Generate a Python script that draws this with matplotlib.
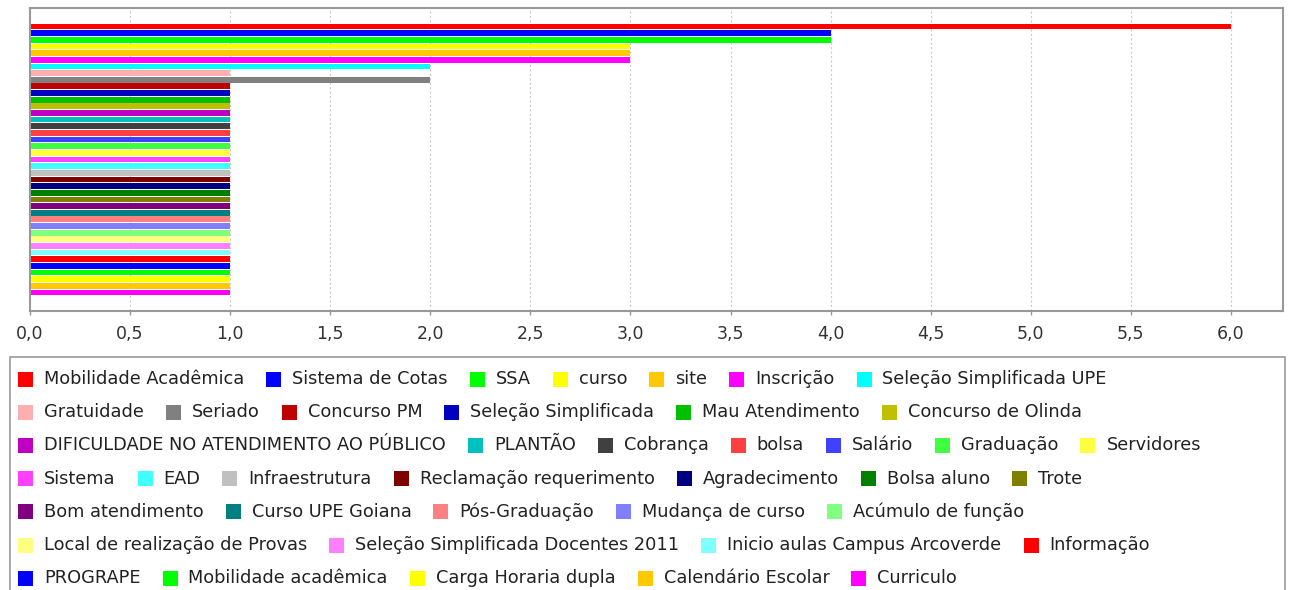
import matplotlib
matplotlib.use('Agg')
import matplotlib.pyplot as plt
from matplotlib.patches import Rectangle
from matplotlib.ticker import MultipleLocator, FuncFormatter

categories = ['Mobilidade Acadêmica', 'Sistema de Cotas', 'SSA', 'curso', 'site', 'Inscrição',
              'Seleção Simplificada UPE', 'Gratuidade', 'Seriado', 'Concurso PM',
              'Seleção Simplificada', 'Mau Atendimento', 'Concurso de Olinda',
              'DIFICULDADE NO ATENDIMENTO AO PÚBLICO', 'PLANTÃO', 'Cobrança', 'bolsa', 'Salário',
              'Graduação', 'Servidores', 'Sistema', 'EAD', 'Infraestrutura',
              'Reclamação requerimento', 'Agradecimento', 'Bolsa aluno', 'Trote',
              'Bom atendimento', 'Curso UPE Goiana', 'Pós-Graduação', 'Mudança de curso',
              'Acúmulo de função', 'Local de realização de Provas',
              'Seleção Simplificada Docentes 2011', 'Inicio aulas Campus Arcoverde', 'Informação',
              'PROGRAPE', 'Mobilidade acadêmica', 'Carga Horaria dupla', 'Calendário Escolar',
              'Curriculo']
values = [6, 4, 4, 3, 3, 3, 2, 1, 2] + [1] * 32

# java/jfreechart style default paint sequence
palette = ['#ff0000', '#0000ff', '#00ff00', '#ffff00', '#ffc800', '#ff00ff', '#00ffff',
           '#ffafaf', '#808080', '#c00000', '#0000c0', '#00c000', '#c0c000', '#c000c0',
           '#00c0c0', '#404040', '#ff4040', '#4040ff', '#40ff40', '#ffff40', '#ff40ff',
           '#40ffff', '#c0c0c0', '#800000', '#000080', '#008000', '#808000', '#800080',
           '#008080', '#ff8080', '#8080ff', '#80ff80', '#ffff80', '#ff80ff', '#80ffff',
           '#ff0000', '#0000ff', '#00ff00', '#ffff00', '#ffc800', '#ff00ff']
legend_rows = [7, 6, 7, 7, 5, 4, 5]

W, H = 1294, 590
fig = plt.figure(figsize=(W / 100, H / 100), dpi=100)
ax = fig.add_axes([30 / W, 1 - 311 / H, (1283 - 30) / W, (311 - 8) / H])

pos = list(range(len(categories)))
ax.barh(pos, values, height=0.86, color=palette, zorder=2)
ax.set_xlim(0, 6.26)
m = 2.28
ax.set_ylim(len(categories) - 0.5 + m, -0.5 - m)
ax.set_yticks([])
ax.xaxis.set_major_locator(MultipleLocator(0.5))
ax.xaxis.set_major_formatter(FuncFormatter(lambda v, p: f'{v:.1f}'.replace('.', ',')))
ax.grid(axis='x', color='#cccccc', linestyle=(0, (2, 2)), linewidth=0.8, zorder=0)
for s in ax.spines.values():
    s.set_color('#999999')
    s.set_linewidth(1.5)
ax.tick_params(axis='x', direction='out', length=3, width=1, color='#999999',
               pad=7, labelsize=12.5, labelcolor='#333333')

# legend box (bottom border is cut off in the original)
fig.add_artist(Rectangle((10 / W, -0.1), (1285 - 10) / W, (1 - 357 / H) + 0.1,
                         transform=fig.transFigure, fill=False,
                         edgecolor='#999999', lw=1.2))

renderer = fig.canvas.get_renderer()
idx = 0
for r, n in enumerate(legend_rows):
    yc = 379 + r * 33.2
    x = 18
    for k in range(n):
        fig.add_artist(Rectangle((x / W, 1 - (yc + 7.5) / H), 15 / W, 15 / H,
                                 transform=fig.transFigure, facecolor=palette[idx],
                                 edgecolor='none'))
        t = fig.text((x + 26) / W, 1 - yc / H, categories[idx], va='center', ha='left',
                     fontsize=12.8, color='#222222')
        bb = t.get_window_extent(renderer)
        x = bb.x1 + 22
        idx += 1

fig.savefig('out.png', dpi=100)
